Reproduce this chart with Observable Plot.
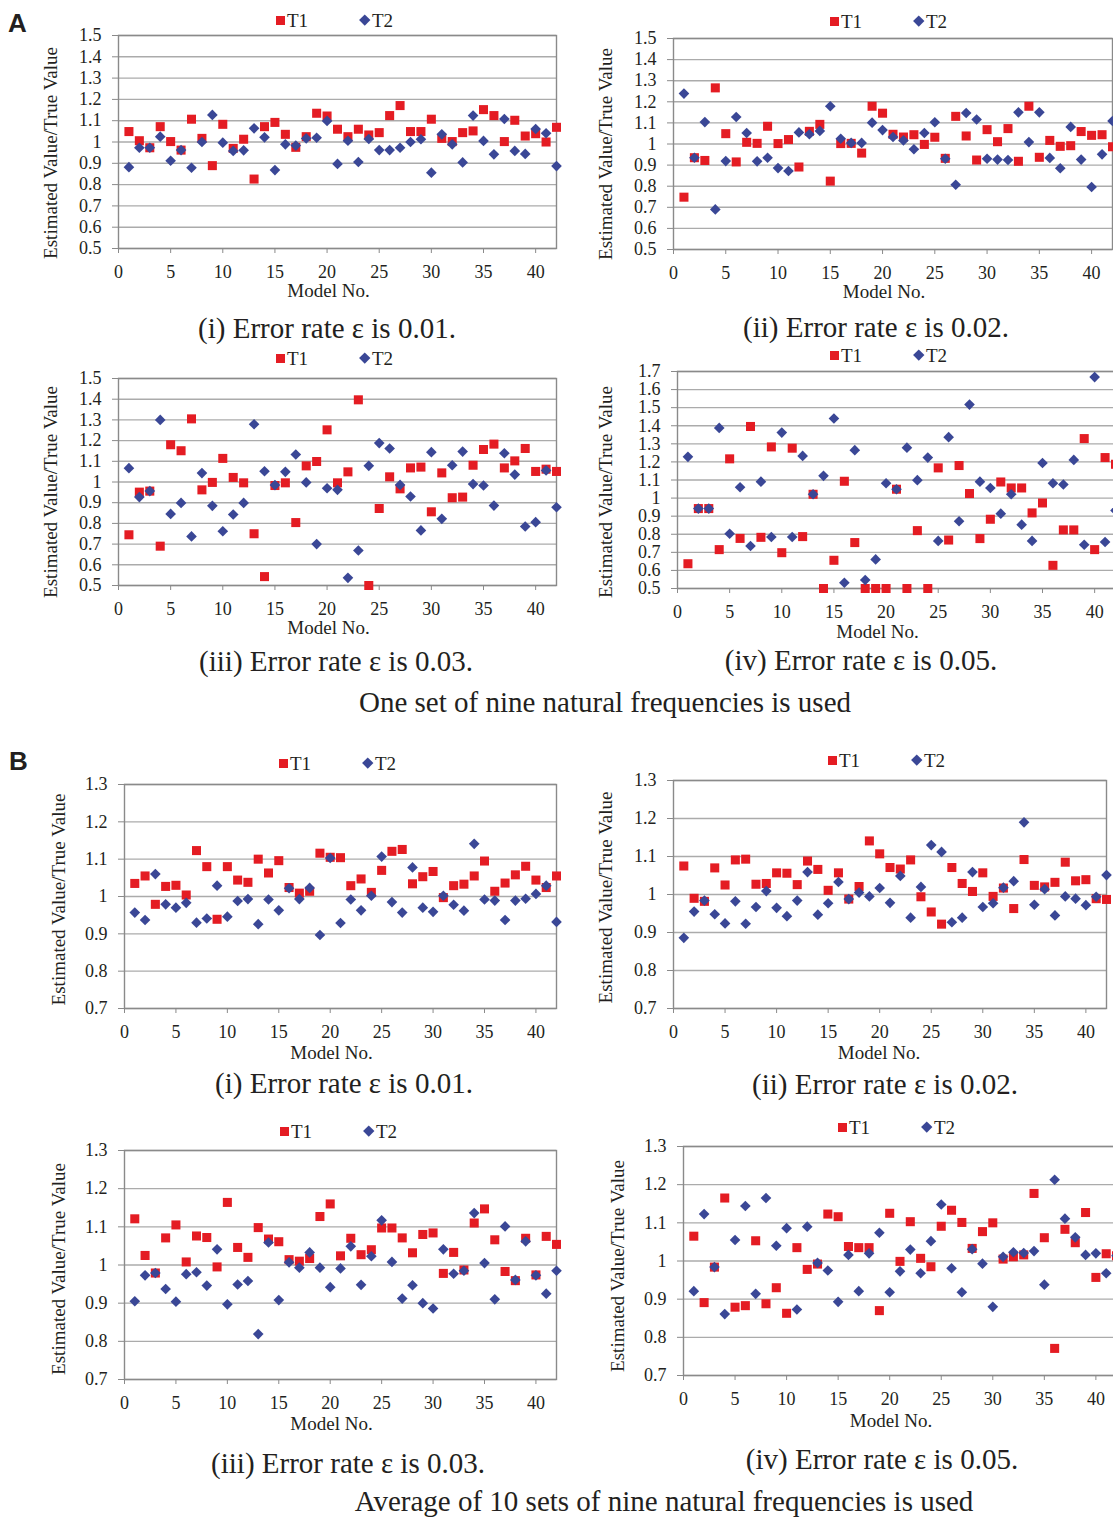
<!DOCTYPE html>
<html>
<head>
<meta charset="utf-8">
<script src="https://cdn.jsdelivr.net/npm/d3@7"></script>
<script src="https://cdn.jsdelivr.net/npm/@observablehq/plot@0.6"></script>
<style>
  html, body { margin: 0; padding: 0; background: #fff; overflow: hidden; }
  #page { position: relative; width: 1113px; height: 1517px; overflow: hidden; background: #fff;
          font-family: "Liberation Serif", "Times New Roman", serif; color: #231f20; }
  .cap { position: absolute; white-space: nowrap; line-height: 1; transform: translate(-50%, -50%); }
  .letter { position: absolute; font-family: "Liberation Sans", Arial, sans-serif; font-weight: bold;
            font-size: 26px; line-height: 1; }
  .leg { position: absolute; font-size: 19px; line-height: 1; white-space: nowrap; }
  .sq { position: absolute; width: 9px; height: 9px; }
  .dm { position: absolute; width: 7.5px; height: 7.5px; transform: rotate(45deg); }
</style>
</head>
<body>
<div id="page"></div>
<script>
// Model numbers on the x axis
const models = [1,2,3,4,5,6,7,8,9,10,11,12,13,14,15,16,17,18,19,20,21,22,23,24,25,26,27,28,29,30,31,32,33,34,35,36,37,38,39,40,41,42];
const xTicks = [0,5,10,15,20,25,30,35,40];
const yTicksA = [0.5,0.6,0.7,0.8,0.9,1,1.1,1.2,1.3,1.4,1.5];
const yTicksA4 = [0.5,0.6,0.7,0.8,0.9,1,1.1,1.2,1.3,1.4,1.5,1.6,1.7];
const yTicksB = [0.7,0.8,0.9,1,1.1,1.2,1.3];

// A: one set of nine natural frequencies
const a1T1 = [1.049,1.006,0.973,1.072,1.002,0.962,1.107,1.017,0.889,1.083,0.970,1.013,0.826,1.072,1.092,1.036,0.975,1.025,1.135,1.122,1.060,1.025,1.060,1.033,1.044,1.124,1.171,1.049,1.049,1.107,1.017,1.002,1.044,1.052,1.152,1.124,1.002,1.102,1.028,1.039,1.000,1.069];
const a1T2 = [0.882,0.973,0.973,1.025,0.912,0.962,0.879,1.000,1.127,0.997,0.958,0.961,1.064,1.022,0.868,0.989,0.983,1.017,1.020,1.099,0.897,1.006,0.906,1.014,0.962,0.962,0.973,1.000,1.013,0.856,1.036,0.989,0.904,1.124,1.005,0.942,1.108,0.958,0.944,1.061,1.041,0.887];
const a2T1 = [0.748,0.935,0.922,1.266,1.049,0.915,1.008,1.003,1.084,1.002,1.021,0.891,1.060,1.093,0.824,1.002,1.003,0.957,1.179,1.146,1.046,1.033,1.044,0.998,1.032,0.932,1.131,1.038,0.924,1.068,1.011,1.073,0.918,1.179,0.937,1.017,0.989,0.992,1.059,1.041,1.044,0.987];
const a2T2 = [1.239,0.935,1.104,0.690,0.919,1.128,1.052,0.918,0.935,0.886,0.872,1.055,1.046,1.062,1.179,1.025,1.005,1.005,1.101,1.066,1.033,1.017,0.975,1.052,1.103,0.930,0.807,1.147,1.116,0.930,0.926,0.924,1.150,1.009,1.150,0.934,0.885,1.081,0.926,0.796,0.951,1.109];
const a3T1 = [0.745,0.951,0.956,0.690,1.180,1.151,1.305,0.962,0.998,1.114,1.022,0.996,0.750,0.543,0.983,0.996,0.804,1.078,1.099,1.252,0.996,1.049,1.397,0.500,0.872,1.025,0.967,1.068,1.072,0.856,1.044,0.924,0.927,1.081,1.157,1.183,1.068,1.102,1.162,1.051,1.062,1.051];
const a3T2 = [1.067,0.927,0.956,1.300,0.846,0.899,0.737,1.043,0.885,0.762,0.843,0.899,1.279,1.052,0.985,1.049,1.133,0.998,0.700,0.970,0.962,0.537,0.669,1.078,1.188,1.162,0.986,0.930,0.766,1.144,0.822,1.081,1.147,0.990,0.983,0.886,1.139,1.036,0.785,0.806,1.056,0.878];
const a4T1 = [0.637,0.942,0.942,0.715,1.217,0.777,1.396,0.783,1.283,0.698,1.276,0.787,1.021,0.500,0.656,1.093,0.754,0.500,0.500,0.500,1.049,0.500,0.820,0.500,1.167,0.768,1.180,1.025,0.776,0.883,1.089,1.056,1.056,0.918,0.973,0.628,0.824,0.824,1.329,0.715,1.224,1.187];
const a4T2 = [1.228,0.942,0.942,1.388,0.803,1.060,0.735,1.091,0.785,1.362,0.785,1.233,1.021,1.123,1.440,0.532,1.265,0.547,0.661,1.082,1.049,1.279,1.099,1.224,0.763,1.337,0.872,1.517,1.091,1.056,0.914,1.021,0.853,0.763,1.194,1.082,1.075,1.211,0.742,1.669,0.757,0.932];

// B: average of 10 sets of nine natural frequencies
const b1T1 = [1.035,1.055,0.979,1.027,1.030,1.004,1.123,1.080,0.939,1.080,1.044,1.038,1.100,1.063,1.096,1.024,1.009,1.014,1.116,1.105,1.104,1.029,1.047,1.011,1.070,1.121,1.126,1.034,1.053,1.067,0.997,1.029,1.033,1.055,1.095,1.014,1.036,1.058,1.081,1.044,1.024,1.055];
const b1T2 = [0.957,0.937,1.060,0.979,0.970,0.983,0.930,0.941,1.029,0.946,0.988,0.993,0.926,0.992,0.963,1.022,0.993,1.023,0.897,1.103,0.929,0.992,0.963,1.002,1.107,0.985,0.957,1.078,0.970,0.959,1.002,0.978,0.962,1.141,0.992,0.989,0.937,0.989,0.994,1.007,1.029,0.932];
const b2T1 = [1.075,0.990,0.982,1.070,1.025,1.091,1.093,1.027,1.029,1.057,1.056,1.026,1.088,1.066,1.011,1.057,0.988,1.021,1.141,1.107,1.071,1.067,1.091,0.994,0.954,0.922,1.071,1.029,1.008,1.057,0.995,1.017,0.963,1.092,1.024,1.020,1.032,1.085,1.036,1.039,0.989,0.987];
const b2T2 = [0.886,0.955,0.984,0.948,0.924,0.982,0.923,0.967,1.009,0.965,0.943,0.984,1.059,0.947,0.977,1.033,0.988,1.005,0.995,1.017,0.978,1.049,0.939,1.020,1.130,1.112,0.927,0.939,1.059,0.967,0.977,1.018,1.035,1.190,0.973,1.014,0.945,0.995,0.989,0.972,0.994,1.051];
const b3T1 = [1.121,1.025,0.979,1.071,1.105,1.008,1.076,1.072,0.995,1.164,1.046,1.020,1.098,1.068,1.061,1.014,1.010,1.017,1.127,1.160,1.024,1.070,1.027,1.040,1.097,1.097,1.071,1.032,1.080,1.084,0.978,1.033,0.987,1.110,1.147,1.066,0.983,0.959,1.070,0.974,1.075,1.054];
const b3T2 = [0.905,0.973,0.979,0.937,0.904,0.976,0.981,0.946,1.041,0.897,0.949,0.958,0.819,1.059,0.908,1.007,0.993,1.033,0.993,0.942,0.991,1.049,0.948,1.023,1.117,1.008,0.912,0.947,0.900,0.886,1.041,0.977,0.985,1.136,1.005,0.910,1.101,0.961,1.062,0.973,0.925,0.985];
const b4T1 = [1.065,0.891,0.984,1.165,0.879,0.883,1.053,0.888,0.930,0.863,1.035,0.978,0.992,1.123,1.116,1.038,1.035,1.035,0.870,1.125,0.999,1.103,1.007,0.985,1.091,1.133,1.101,1.033,1.077,1.100,1.005,1.011,1.016,1.177,1.061,0.771,1.083,1.048,1.127,0.957,1.019,1.014];
const b4T2 = [0.921,1.123,0.984,0.861,1.055,1.144,0.914,1.165,1.040,1.086,0.873,1.090,0.995,0.975,0.893,1.016,0.921,1.020,1.074,0.918,0.973,1.030,0.968,1.052,1.148,0.981,0.918,1.031,0.993,0.880,1.011,1.023,1.021,1.026,0.938,1.213,1.111,1.062,1.016,1.020,0.968,1.014];

const captions = ["(i) Error rate ε is 0.01.", "(ii) Error rate ε is 0.02.", "(iii) Error rate ε is 0.03.", "(iv) Error rate ε is 0.05."];
const seriesNames = ["T1", "T2"];
const yTitle = "Estimated Value/True Value";
const xTitle = "Model No.";
const groupTitles = ["One set of nine natural frequencies is used", "Average of 10 sets of nine natural frequencies is used"];

const RED = "#e41c23";
const BLUE = "#3a4796";
const INK = "#231f20";
const AXIS = "#8a8a8a";
const GRID = "#ababab";

const ML = 80, MR = 6, MT = 6, MB = 62;
const fmt = d3.format("~g");

// Layout of the eight panels: plot-frame position on the page and label offsets
const panels = [
  {L: 118,   T: 35,    W: 438, H: 213, yDomain: [0.5, 1.5], yTicks: yTicksA,  t1: a1T1, t2: a1T2, cap: 0, capX: 327, capY: 327.5, leg: [280, 20],  ydx: -68, ydy: 11, xdx: -9,  xdy: 42},
  {L: 673,   T: 38.3,  W: 439, H: 211, yDomain: [0.5, 1.5], yTicks: yTicksA,  t1: a2T1, t2: a2T2, cap: 1, capX: 876, capY: 327,   leg: [834, 21],  ydx: -68, ydy: 10, xdx: -9,  xdy: 42},
  {L: 118,   T: 378,   W: 438, H: 207, yDomain: [0.5, 1.5], yTicks: yTicksA,  t1: a3T1, t2: a3T2, cap: 2, capX: 336, capY: 661,   leg: [280, 358], ydx: -68, ydy: 10, xdx: -9,  xdy: 42},
  {L: 677.3, T: 371,   W: 438, H: 217, yDomain: [0.5, 1.7], yTicks: yTicksA4, t1: a4T1, t2: a4T2, cap: 3, capX: 861, capY: 659.5, leg: [834, 355], ydx: -72, ydy: 12, xdx: -19, xdy: 43},
  {L: 124.3, T: 783.7, W: 432, H: 224, yDomain: [0.7, 1.3], yTicks: yTicksB,  t1: b1T1, t2: b1T2, cap: 0, capX: 344, capY: 1083,  leg: [283, 763], ydx: -66, ydy: 3,  xdx: -9,  xdy: 44},
  {L: 672.7, T: 780.3, W: 433, H: 228, yDomain: [0.7, 1.3], yTicks: yTicksB,  t1: b2T1, t2: b2T2, cap: 1, capX: 885, capY: 1084,  leg: [832, 760], ydx: -68, ydy: 3,  xdx: -11, xdy: 44},
  {L: 124.3, T: 1150,  W: 432, H: 229, yDomain: [0.7, 1.3], yTicks: yTicksB,  t1: b3T1, t2: b3T2, cap: 2, capX: 348, capY: 1463,  leg: [284, 1131], ydx: -66, ydy: 4, xdx: -9,  xdy: 44},
  {L: 683,   T: 1146,  W: 433, H: 229, yDomain: [0.7, 1.3], yTicks: yTicksB,  t1: b4T1, t2: b4T2, cap: 3, capX: 882, capY: 1459,  leg: [842, 1127], ydx: -66, ydy: 5, xdx: -9,  xdy: 45}
];

const page = document.getElementById("page");

function addDiv(cls, text, style) {
  const el = document.createElement("div");
  el.className = cls;
  if (text != null) el.textContent = text;
  Object.assign(el.style, style);
  page.appendChild(el);
  return el;
}

for (const p of panels) {
  const rows = models.map((m, i) => ({model: m, t1: p.t1[i], t2: p.t2[i]}));
  const svg = Plot.plot({
    width: p.W + ML + MR,
    height: p.H + MT + MB,
    marginLeft: ML, marginRight: MR, marginTop: MT, marginBottom: MB,
    x: {domain: [0, 42]},
    y: {domain: p.yDomain},
    style: {fontFamily: "'Liberation Serif', 'Times New Roman', serif", color: INK, background: "transparent", overflow: "visible"},
    marks: [
      Plot.gridY(p.yTicks, {stroke: GRID, strokeOpacity: 1, strokeWidth: 1.4}),
      Plot.frame({stroke: AXIS, strokeWidth: 1.4}),
      Plot.axisY(p.yTicks, {tickSize: 6, tickPadding: 11, fontSize: 18, stroke: AXIS, fill: INK, tickFormat: fmt, label: null}),
      Plot.axisX(xTicks, {tickSize: 5, tickPadding: 12, fontSize: 18, stroke: AXIS, fill: INK, tickFormat: fmt, label: null}),
      Plot.dot(rows, {x: "model", y: "t1", symbol: "square", r: 5.1, fill: RED, stroke: "none"}),
      Plot.dot(rows, {x: "model", y: "t2", symbol: "diamond2", r: 4.8, fill: BLUE, stroke: "none"}),
      Plot.text([xTitle], {frameAnchor: "bottom", textAnchor: "middle", lineAnchor: "middle", dx: p.xdx, dy: p.xdy, fontSize: 19, fill: INK}),
      Plot.text([yTitle], {frameAnchor: "left", textAnchor: "middle", lineAnchor: "middle", rotate: -90, dx: p.ydx, dy: p.ydy, fontSize: 19, fill: INK})
    ]
  });
  svg.style.position = "absolute";
  svg.style.left = (p.L - ML) + "px";
  svg.style.top = (p.T - MT) + "px";
  page.appendChild(svg);

  // caption under the panel
  addDiv("cap", captions[p.cap], {left: p.capX + "px", top: p.capY + "px", fontSize: "29px"});

  // legend above the panel
  const [lx, ly] = p.leg;
  addDiv("sq", null, {left: (lx - 4.5) + "px", top: (ly - 4.5) + "px", background: RED});
  addDiv("leg", seriesNames[0], {left: (lx + 7) + "px", top: (ly - 9) + "px"});
  addDiv("dm", null, {left: (lx + 85 - 3.75) + "px", top: (ly - 3.75) + "px", background: BLUE});
  addDiv("leg", seriesNames[1], {left: (lx + 92) + "px", top: (ly - 9) + "px"});
}

// group letters and group titles
addDiv("letter", "A", {left: "8px", top: "10px"});
addDiv("letter", "B", {left: "9px", top: "748px"});
addDiv("cap", groupTitles[0], {left: "605px", top: "702px", fontSize: "29px"});
addDiv("cap", groupTitles[1], {left: "664px", top: "1501px", fontSize: "29px"});
</script>
</body>
</html>
